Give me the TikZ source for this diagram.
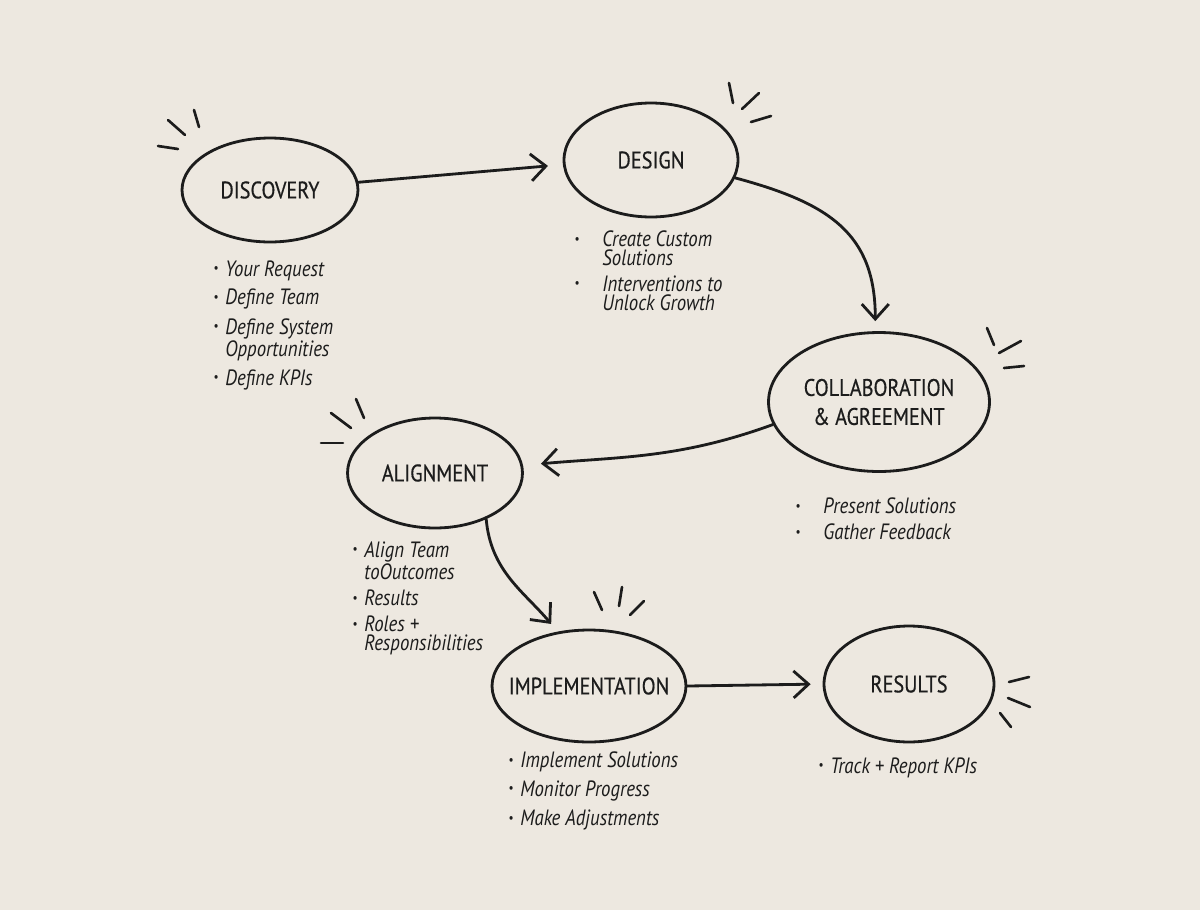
\documentclass[tikz,border=0pt]{standalone}
\usepackage{fontspec}
\setmainfont{PT Sans}[FakeStretch=0.85]
\newfontfamily\ttlfont{PT Sans}[FakeStretch=0.85,FakeBold=0.5]
\usepackage{graphicx}
\usepackage{tikz}
\usetikzlibrary{arrows.meta,shapes.geometric}
\definecolor{paper}{RGB}{237,232,224}
\definecolor{ink}{RGB}{28,28,28}
\newcommand{\bu}{\makebox[0.24cm][l]{\raisebox{1.8pt}{\scalebox{0.6}{\textbullet}}}}
\newcommand{\bw}{\makebox[0.56cm][l]{\raisebox{1.8pt}{\scalebox{0.6}{\textbullet}}}}
\newcommand{\iu}{\hspace*{0.24cm}}
\newcommand{\iw}{\hspace*{0.56cm}}

\begin{document}
\begin{tikzpicture}[x=0.02cm,y=-0.02cm,color=ink,line width=1.6pt,
  el/.style={draw,ellipse,inner sep=0pt,label={[font=\ttlfont\fontsize{13.6}{16.5}\selectfont,align=center]center:#1}},
  arr/.style={-{Straight Barb[length=3mm,width=5.4mm]},line cap=round},
  sp/.style={line cap=round,line width=1.5pt},
  lst/.style={anchor=north west,align=left,inner sep=0pt,font=\fontsize{12.6}{10.8}\selectfont\itshape}]
\fill[paper](0,0)rectangle(1200,910);
\useasboundingbox(0,0)rectangle(1200,910);
% stages
\node[el=DISCOVERY,minimum width=3.52cm,minimum height=2.08cm] (dis) at (270,190) {};
\node[el=DESIGN,minimum width=3.48cm,minimum height=2.28cm] (des) at (651,160) {};
\node[el={COLLABORATION\\\& AGREEMENT},minimum width=4.42cm,minimum height=2.78cm] (col) at (879,402) {};
\node[el=ALIGNMENT,minimum width=3.5cm,minimum height=2.2cm] (ali) at (435,473) {};
\node[el=IMPLEMENTATION,minimum width=3.88cm,minimum height=2.24cm] (imp) at (589,686) {};
\node[el=RESULTS,minimum width=3.4cm,minimum height=2.32cm] (res) at (909,684) {};
% flow
\draw[arr,shorten >=0.3cm](dis.5)--(des.183);
\draw[arr,shorten >=0.2cm](des.-12) to[out=-15,in=90,looseness=1.2] (col.93);
\draw[arr,shorten >=0.36cm](col.192) to[out=200,in=5] (ali.5);
\draw[arr,shorten >=0.2cm](ali.-42) to[out=-85,in=130] (imp.120);
\draw[arr,shorten >=0.24cm](imp.east)--(res.west);
% sparkles
\draw[sp](158,146)--(178,149); \draw[sp](168,120)--(185,135); \draw[sp](194,110)--(199,127);
\draw[sp](729,83)--(733,103); \draw[sp](742,109)--(759,93); \draw[sp](751,122)--(771,116);
\draw[sp](987,328)--(994,345); \draw[sp](999,353)--(1021,341); \draw[sp](1004,368)--(1024,366);
\draw[sp](331,413)--(351,428); \draw[sp](356,399)--(364,418); \draw[sp](321,443)--(343,443);
\draw[sp](594,592)--(602,610); \draw[sp](622,587)--(619,606); \draw[sp](644,601)--(630,615);
\draw[sp](1009,682)--(1029,677); \draw[sp](1008,698)--(1030,707); \draw[sp](1000,713)--(1011,727);
% lists
\node[lst] (ldis) at (212,259) {\bu Your Request\\[4pt]\bu Define Team\\[4pt]\bu Define System\\\iu Opportunities\\[4pt]\bu Define KPIs};
\node[lst] (ldes) at (573,229) {\bw Create Custom\\\iw Solutions\\[4pt]\bw Interventions to\\\iw Unlock Growth};
\node[lst] (lcol) at (794,496) {\bw Present Solutions\\[4pt]\bw Gather Feedback};
\node[lst] (lali) at (351,540) {\bu Align Team\\\iu toOutcomes\\[4pt]\bu Results\\[4pt]\bu Roles +\\\iu Responsibilities};
\node[lst] (limp) at (507,750) {\bu Implement Solutions\\[4pt]\bu Monitor Progress\\[4pt]\bu Make Adjustments};
\node[lst] (lres) at (817,756) {\bu Track + Report KPIs};
\end{tikzpicture}
\end{document}
